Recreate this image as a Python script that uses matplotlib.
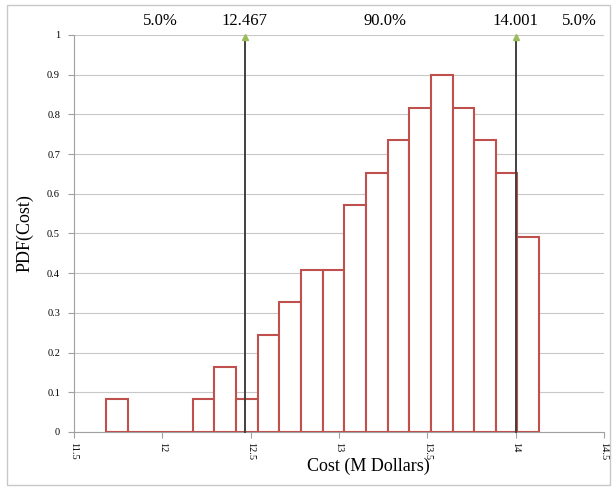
import numpy as np
import matplotlib.pyplot as plt
from matplotlib.patches import Rectangle

# histogram of simulated cost (M Dollars)
bin_start = 11.681
bin_width = 0.1226
pdf_vals = [0.082, 0.0, 0.0, 0.0, 0.082, 0.163, 0.082, 0.245, 0.327, 0.408,
            0.408, 0.571, 0.653, 0.735, 0.816, 0.898, 0.816, 0.735, 0.653, 0.490]

# 5% / 95% percentiles
p_low, p_high = 12.467, 14.001
shares = ["5.0%", "90.0%", "5.0%"]

plt.rcParams['font.family'] = ['Liberation Serif', 'DejaVu Serif']

fig = plt.figure(figsize=(6.14, 4.88), dpi=100)
fig.patches.append(Rectangle((0.012, 0.006), 0.982, 0.984, transform=fig.transFigure,
                             fill=False, edgecolor="#c8c8c8", linewidth=1.0))
ax = fig.add_axes([0.1205, 0.1148, 0.8632, 0.8135])

edges = bin_start + bin_width * np.arange(len(pdf_vals))
ax.bar(edges, pdf_vals, width=bin_width, align="edge", facecolor="white",
       edgecolor="#c0504d", linewidth=1.5, zorder=3)

for p in (p_low, p_high):
    ax.plot([p, p], [0, 0.99], color="#404040", lw=1.4, zorder=4, clip_on=False)
    ax.plot(p, 0.995, marker="^", color="#9bbb59", markersize=5, zorder=5, clip_on=False)
    ax.text(p, 1.015, f"{p:.3f}", ha="center", va="bottom", fontsize=12)

ax.text(11.99, 1.015, shares[0], ha="center", va="bottom", fontsize=12)
ax.text(13.26, 1.015, shares[1], ha="center", va="bottom", fontsize=12)
ax.text(14.36, 1.015, shares[2], ha="center", va="bottom", fontsize=12)

ax.set_xlim(11.5, 14.5)
ax.set_ylim(0, 1)
ax.set_xticks(np.arange(11.5, 14.51, 0.5))
ax.set_xticklabels(["11.5", "12", "12.5", "13", "13.5", "14", "14.5"], rotation=-90, fontsize=7.5)
ax.set_yticks(np.arange(0, 1.01, 0.1))
ax.set_yticklabels(["0", "0.1", "0.2", "0.3", "0.4", "0.5", "0.6", "0.7", "0.8", "0.9", "1"], fontsize=7.5)
ax.yaxis.grid(True, color="#c8c8c8", linewidth=0.8)
ax.set_axisbelow(True)
ax.tick_params(axis="y", length=4, color="#a0a0a0", pad=6)
ax.tick_params(axis="x", length=4, color="#a0a0a0", pad=3)

for s in ("top", "right"):
    ax.spines[s].set_visible(False)
for s in ("left", "bottom"):
    ax.spines[s].set_color("#a0a0a0")

ax.set_xlabel("Cost (M Dollars)", fontsize=13)
ax.xaxis.set_label_coords(0.555, -0.065)
ax.set_ylabel("PDF(Cost)", fontsize=13, labelpad=10)

plt.savefig("out.png", dpi=100)
